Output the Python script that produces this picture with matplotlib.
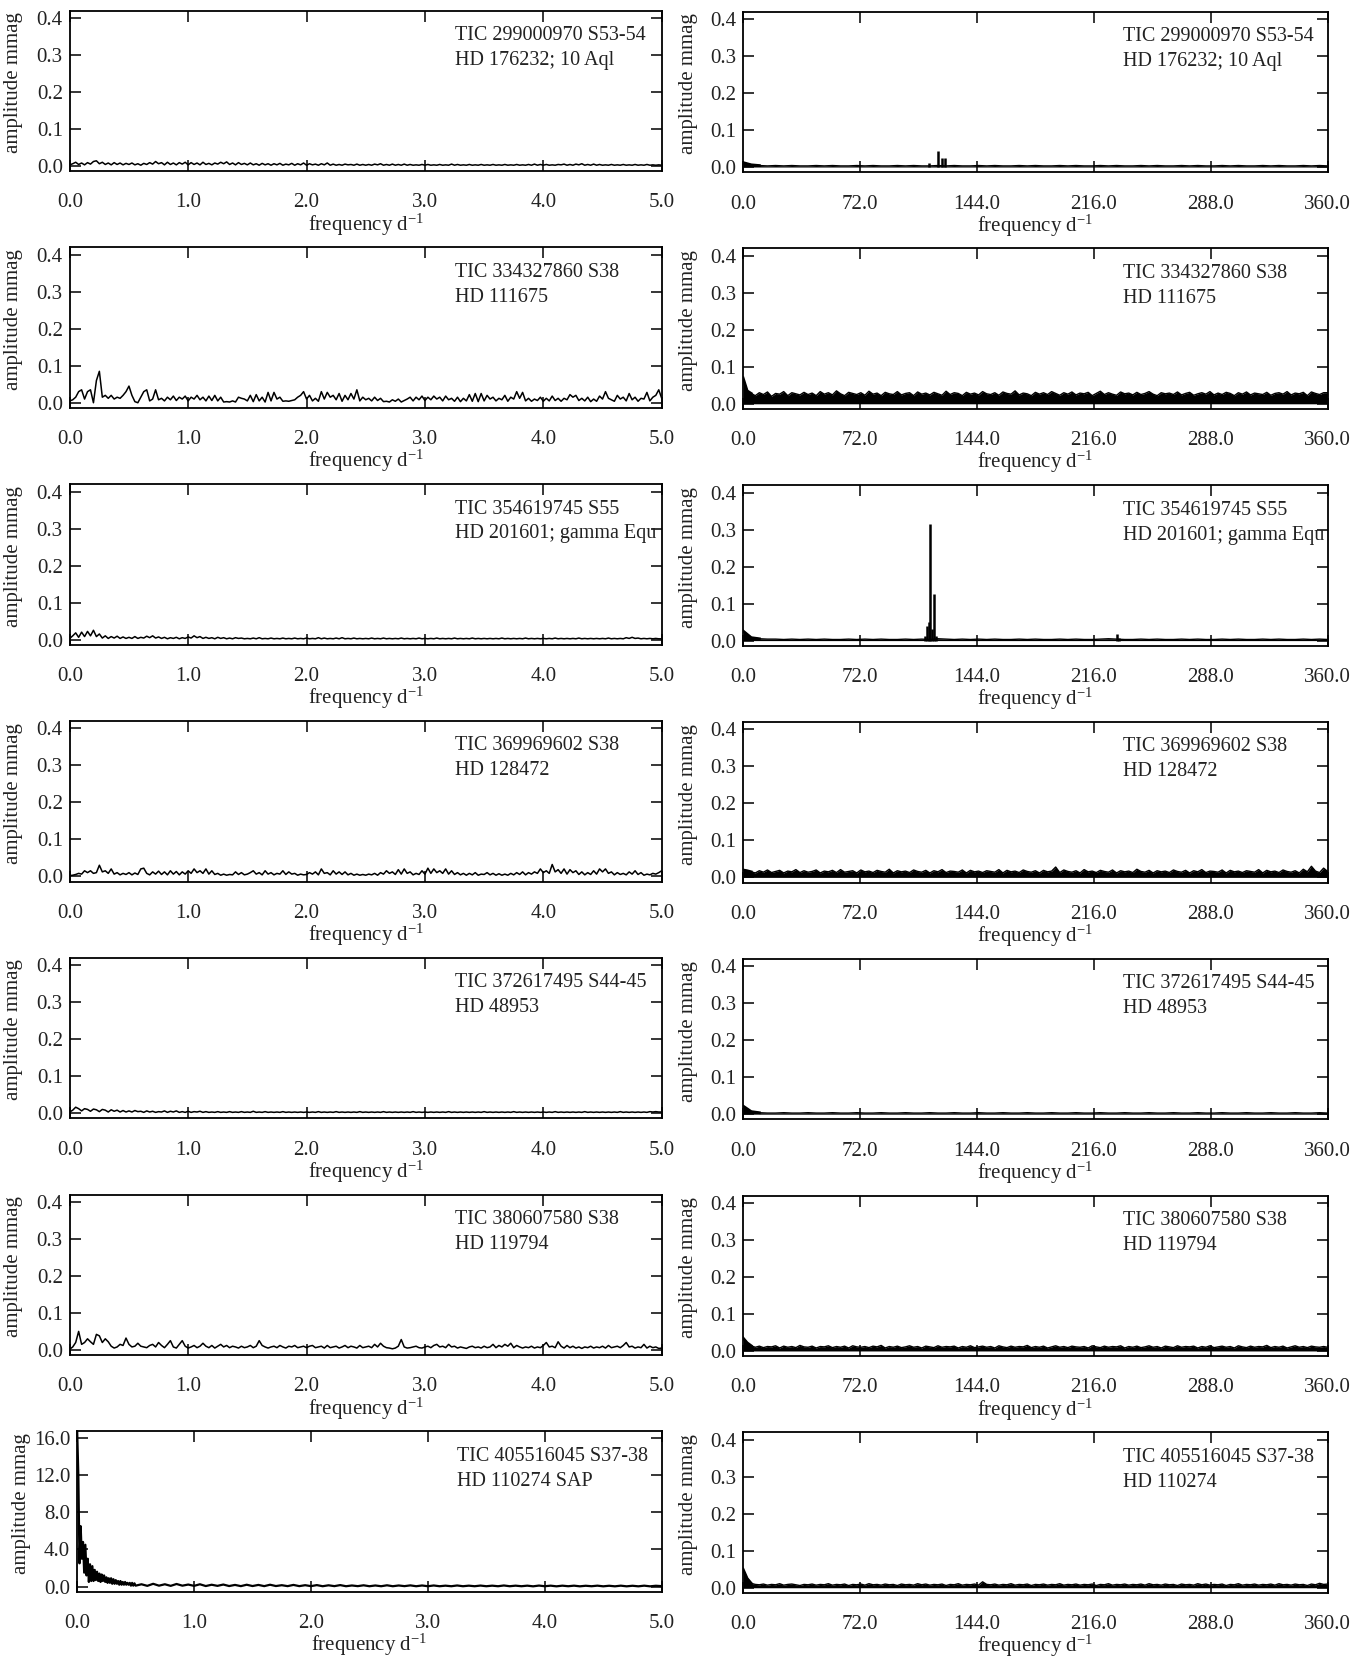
import numpy as np
import matplotlib.pyplot as plt
from matplotlib.ticker import FormatStrFormatter

plt.rcParams['font.family'] = ['Liberation Serif', 'DejaVu Serif']
plt.rcParams['mathtext.default'] = 'regular'

# ---- labels -------------------------------------------------------------
left_labels = [("TIC 299000970 S53-54", "HD 176232; 10 Aql"),
               ("TIC 334327860 S38", "HD 111675"),
               ("TIC 354619745 S55", "HD 201601; gamma Equ"),
               ("TIC 369969602 S38", "HD 128472"),
               ("TIC 372617495 S44-45", "HD 48953"),
               ("TIC 380607580 S38", "HD 119794"),
               ("TIC 405516045 S37-38", "HD 110274 SAP")]
right_labels = [("TIC 299000970 S53-54", "HD 176232; 10 Aql"),
                ("TIC 334327860 S38", "HD 111675"),
                ("TIC 354619745 S55", "HD 201601; gamma Equ"),
                ("TIC 369969602 S38", "HD 128472"),
                ("TIC 372617495 S44-45", "HD 48953"),
                ("TIC 380607580 S38", "HD 119794"),
                ("TIC 405516045 S37-38", "HD 110274")]

left_xticks = [0.0, 1.0, 2.0, 3.0, 4.0, 5.0]
right_xticks = [0.0, 72.0, 144.0, 216.0, 288.0, 360.0]
amp_yticks = [0.0, 0.1, 0.2, 0.3, 0.4]
sap_yticks = [0.0, 4.0, 8.0, 12.0, 16.0]

# ---- low frequency spectra 0-5 d^-1, amplitudes in micro-mag ------------
lo1_umag = [3,6,10,4,8,3,9,5,12,14,6,10,4,8,3,9,4,8,3,7,
            4,8,3,6,2,7,4,9,5,12,6,9,3,10,4,8,3,9,5,10,
            3,9,4,8,3,10,4,7,3,8,5,10,6,11,4,8,3,9,4,7,
            3,8,3,6,2,7,3,6,2,6,3,7,2,5,3,7,2,6,3,8,
            2,6,3,5,2,6,3,8,2,5,2,4,2,5,3,4,2,5,2,4,
            2,4,2,5,3,6,2,4,2,5,2,4,2,5,2,4,2,3,2,4,
            2,4,2,3,2,4,2,3,2,5,2,4,2,3,2,4,2,3,2,4,
            2,3,2,4,2,3,2,4,2,3,2,4,2,3,2,4,2,5,2,4,
            2,4,2,3,2,4,3,5,2,4,2,5,3,6,2,4,2,5,2,4,
            2,3,2,4,2,3,2,4,2,3,2,4,2,3,2,4,2,3,2,3,
            2]
lo2_umag = [5,8,15,30,35,10,30,35,0,60,85,15,20,12,20,10,15,12,20,30,
            45,20,3,0,15,30,35,5,10,35,8,12,5,15,8,18,6,15,10,18,
            5,15,10,20,8,15,5,18,6,20,5,15,2,3,2,5,2,15,12,10,
            5,20,3,22,5,15,2,28,5,28,10,15,4,5,4,6,8,15,20,30,
            10,20,5,12,4,30,10,28,15,20,8,25,4,20,8,25,10,35,5,15,
            8,12,5,15,6,12,3,4,2,8,4,10,2,6,10,15,5,15,8,18,
            6,15,8,18,10,15,5,18,8,12,4,15,3,12,5,22,4,25,3,25,
            5,20,10,15,5,12,8,20,4,15,10,30,12,28,5,12,4,10,6,15,
            4,12,5,18,6,12,4,12,8,22,15,20,6,12,5,15,3,10,4,18,
            10,30,12,8,4,20,10,15,5,25,8,15,4,12,10,28,5,15,20,35,
            12]
lo3_umag = [3,10,18,6,20,8,22,10,25,8,15,4,10,3,8,4,9,3,7,3,
            6,3,8,3,6,4,9,5,10,4,7,3,6,2,5,3,6,2,5,3,
            7,4,10,5,8,3,6,3,5,2,6,3,5,2,4,2,5,3,4,2,
            3,2,4,2,5,2,3,2,4,2,3,2,4,2,3,2,4,2,3,2,
            4,2,3,2,5,2,4,2,3,2,4,2,5,2,3,2,4,2,3,2,
            3,2,4,2,3,2,4,2,3,2,3,2,4,2,3,2,3,2,4,2,
            3,2,3,2,4,2,3,2,3,2,4,2,3,2,3,2,4,2,3,2,
            3,2,3,2,3,2,4,2,3,2,3,2,3,2,4,2,3,2,3,2,
            3,2,3,2,4,2,3,2,3,2,3,2,4,2,3,2,3,2,3,2,
            3,2,4,2,3,2,3,2,5,3,6,3,4,2,3,2,3,2,3,2,
            2]
lo4_umag = [2,3,5,8,6,15,10,15,8,10,30,12,15,8,20,6,10,4,8,5,
            10,4,9,5,20,22,8,4,12,6,14,5,12,4,15,6,13,4,12,6,
            15,8,20,10,15,8,20,6,15,5,8,3,6,3,5,4,12,5,10,4,
            6,10,15,6,10,4,15,6,10,4,8,6,15,5,12,6,8,3,6,4,
            5,10,6,12,4,20,8,10,4,15,6,12,5,12,4,8,3,6,3,5,
            3,6,4,8,3,10,6,15,8,12,5,18,6,20,8,12,4,8,5,15,
            6,22,8,20,10,15,8,20,6,15,5,10,4,8,3,8,4,10,3,6,
            5,10,4,8,3,7,3,6,3,8,4,10,5,12,4,10,6,12,8,20,
            10,15,8,32,12,18,8,20,6,18,10,15,5,12,4,10,5,15,6,20,
            12,20,8,12,4,10,5,8,4,12,6,15,5,10,3,6,4,8,6,10,
            15]
lo5_umag = [3,8,16,12,6,12,10,5,11,9,4,10,8,3,9,5,8,3,7,3,
            6,3,7,4,5,2,6,3,5,2,4,3,6,2,5,3,6,2,4,2,
            5,2,4,3,5,2,4,2,3,2,4,2,3,2,4,2,3,2,4,2,
            3,2,5,2,3,2,4,2,3,2,3,2,4,2,3,2,3,2,3,2,
            3,2,3,2,4,2,3,2,3,2,4,2,3,2,3,2,3,2,4,2,
            3,2,3,2,3,2,4,2,3,2,3,2,3,2,3,2,4,2,3,2,
            3,2,3,2,3,2,3,2,4,2,3,2,3,2,3,2,3,2,3,2,
            4,2,3,2,3,2,3,2,3,2,4,2,3,2,3,2,3,2,3,2,
            3,2,3,2,4,2,3,2,3,2,3,2,3,2,4,2,3,2,3,2,
            3,2,3,2,3,2,4,2,3,2,3,2,3,2,3,2,4,3,4,3,
            3]
lo6_umag = [2,8,20,50,15,20,30,22,15,42,38,20,30,22,10,5,8,15,12,32,
            15,8,10,18,10,8,6,12,15,8,20,12,6,15,25,8,5,15,25,10,
            5,8,12,6,10,18,10,6,12,5,10,15,8,12,6,10,8,5,10,6,
            8,12,6,10,25,12,8,5,8,10,6,12,8,5,10,8,12,6,8,10,
            6,10,12,6,8,10,5,12,6,8,10,5,8,12,6,10,8,5,12,6,
            8,10,6,15,8,18,10,6,5,3,5,10,28,8,5,6,8,10,6,5,
            8,10,6,12,15,8,10,6,15,8,10,5,8,6,4,8,10,6,8,5,
            10,6,8,15,6,12,8,15,10,18,6,12,8,5,8,6,10,5,8,6,
            12,20,8,10,6,22,10,5,12,6,10,5,8,4,8,6,10,5,8,6,
            10,5,12,6,8,10,6,12,20,8,10,5,8,6,15,5,10,6,8,4,
            5]
# SAP spectrum in mmag: 0-0.5 d^-1 (fine) and 0.55-5.0 d^-1 (coarse)
sap_fine_mmag = [16.8,12.0,2.5,6.5,3.0,4.8,1.5,4.5,1.2,3.0,0.5,2.4,0.6,2.2,0.6,
                 1.8,0.7,1.6,0.6,1.4,0.5,1.3,0.6,1.2,0.5,1.0,0.4,0.9,0.4,0.9,
                 0.3,0.8,0.3,0.7,0.3,0.6,0.2,0.6,0.2,0.5,0.2,0.5,0.2,0.4,0.2,
                 0.4,0.1,0.4,0.1,0.35,0.1]
sap_coarse_mmag = [0.25,0.08,0.3,0.1,0.25,0.08,0.28,0.1,0.22,0.08,
                   0.25,0.06,0.2,0.08,0.22,0.06,0.18,0.05,0.2,0.06,
                   0.18,0.05,0.2,0.06,0.15,0.05,0.18,0.05,0.15,0.05,
                   0.16,0.04,0.14,0.05,0.16,0.04,0.12,0.05,0.14,0.04,
                   0.12,0.04,0.14,0.04,0.12,0.05,0.13,0.04,0.12,0.04,
                   0.12,0.04,0.1,0.04,0.12,0.04,0.1,0.04,0.11,0.04,
                   0.1,0.04,0.12,0.04,0.1,0.04,0.1,0.03,0.11,0.04,
                   0.1,0.03,0.1,0.04,0.1,0.03,0.09,0.04,0.1,0.03,
                   0.09,0.03,0.1,0.03,0.09,0.03,0.1,0.03,0.09,0.05]

# ---- high frequency spectra 0-360 d^-1, noise in micro-mag --------------
hi1_umag = [12,6,4,3,4,3,4,3,3,4,3,4,3,3,4,3,4,3,3,4,3,4,3,3,4,3,4,3,3,4,
            3,4,3,3,4,3,4,3,3,4,3,4,3,3,4,3,4,3,3,4,3,4,3,3,4,3,4,3,3,4,
            3,4,3,3,4,3,4,3,3,4,3,4,3]
hi2_umag = [70,35,28,22,30,25,32,20,28,26,33,22,30,27,24,31,25,29,22,33,
            26,30,24,35,27,22,31,28,25,30,23,34,26,29,22,31,27,25,33,24,
            28,30,22,32,26,29,24,31,27,23,34,25,30,28,22,31,26,29,24,33,
            27,25,30,23,32,28,26,35,24,29,27,22,31,26,30,25,33,28,23,30,
            26,32,24,29,27,31,22,28,34,25,30,26,23,32,27,29,24,31,25,28,
            33,26,22,30,27,29,25,32,24,28,31,23,27,30,26,33,24,29,25,31,
            28,22,30,26,32,24,29,27,25,31,23,28,30,26,33,24,29,27,31,22,
            32,28,25,30,30]
hi3_umag = [26,8,5,4,4,3,4,3,4,3,4,3,3,4,3,4,3,4,3,3,4,3,4,3,5,4,3,4,3,4,
            3,4,3,3,4,3,4,3,3,4,3,4,3,3,4,5,4,3,3,4,3,4,3,3,4,3,4,3,3,4,
            3,4,3,3,4,3,4,3,3,4,3,4,3]
hi4_umag = [20,18,15,12,18,14,20,13,16,19,12,17,15,21,13,18,14,16,20,12,
            17,15,19,13,21,14,16,18,12,20,15,17,13,19,16,14,22,12,18,15,
            17,13,20,16,14,19,12,18,15,21,13,17,16,14,20,12,19,15,17,13,
            18,16,14,21,12,19,15,17,13,20,16,14,18,12,19,15,17,28,13,20,
            16,14,18,12,21,15,17,13,19,16,14,20,12,18,15,17,13,22,16,14,
            19,12,18,15,17,13,20,16,14,19,12,18,15,21,13,17,16,14,20,12,
            19,15,17,13,18,16,14,21,12,19,15,17,13,20,16,14,18,12,22,15,
            30,17,13,25,16]
hi5_umag = [22,7,4,3,3,4,3,3,4,3,3,4,3,3,4,3,3,4,3,3,4,3,3,4,3,3,4,3,3,4,
            3,3,4,3,3,4,3,3,4,3,3,4,3,3,4,3,3,4,3,3,4,3,3,4,3,3,4,3,3,4,
            3,3,4,3,3,4,3,3,4,3,3,4,3]
hi6_umag = [35,22,14,10,13,9,12,11,14,8,13,10,12,9,15,11,10,13,8,12,
            11,14,9,12,10,13,8,14,11,10,12,9,13,11,15,8,12,10,13,9,
            11,14,10,12,8,13,11,9,14,10,12,11,13,8,12,10,14,9,11,13,
            10,12,8,14,11,9,13,10,12,11,15,9,12,10,13,8,11,14,10,12,
            9,13,11,10,12,8,14,11,9,13,10,12,11,14,8,12,10,13,9,11,
            14,10,12,8,13,11,9,14,10,12,11,13,8,12,10,14,9,11,13,10,
            12,8,14,11,9,13,10,12,11,15,9,12,10,13,8,11,14,10,12,9,
            13,11,10,12,10]
hi7_umag = [50,25,12,9,8,10,7,9,8,11,7,9,10,8,6,9,8,10,7,9,
            8,11,7,9,8,10,6,9,8,10,7,11,8,9,7,10,8,9,6,10,
            8,9,7,11,8,10,7,9,8,10,6,9,8,11,7,9,8,10,7,16,
            9,8,10,7,9,8,11,7,9,8,10,6,9,8,10,7,9,8,11,7,
            9,8,10,7,9,8,10,6,9,8,11,7,9,8,10,7,9,8,10,7,
            11,8,9,7,10,8,9,6,10,8,9,7,11,8,10,7,9,8,10,6,
            9,8,11,7,9,8,10,7,9,8,10,7,11,8,9,7,10,8,9,6,
            10,8,12,9,10]

# resolved pulsation peaks (d^-1, mmag)
peaks1_freq = [114.5, 120.0, 122.5, 124.3]
peaks1_amp = [0.010, 0.042, 0.025, 0.024]
peaks3_freq = [112.0, 113.0, 114.3, 115.2, 116.2, 117.3, 118.8, 230.0, 231.5]
peaks3_amp = [0.012, 0.040, 0.050, 0.315, 0.030, 0.125, 0.012, 0.018, 0.008]

left_series = [lo1_umag, lo2_umag, lo3_umag, lo4_umag, lo5_umag, lo6_umag]
right_series = [hi1_umag, hi2_umag, hi3_umag, hi4_umag, hi5_umag, hi6_umag, hi7_umag]
right_peaks = {0: (peaks1_freq, peaks1_amp), 2: (peaks3_freq, peaks3_amp)}

# ---- layout (pixel geometry of the reference, scaled to the figure) -----
W, H = 1297.0, 1567.5
TXT = '#222222'
fig = plt.figure(figsize=(13.71, 16.57), dpi=100)


def style_axes(ax, xticks, yticks, xmax):
    ax.set_xlim(xticks[0], xmax)
    ax.set_xticks(xticks)
    ax.set_yticks(yticks)
    ax.xaxis.set_major_formatter(FormatStrFormatter('%.1f'))
    ax.yaxis.set_major_formatter(FormatStrFormatter('%.1f'))
    ax.tick_params(direction='in', top=True, right=True, length=8, width=1.1,
                   labelsize=15, labelcolor=TXT)
    ax.tick_params(axis='x', pad=16)
    ax.tick_params(axis='y', pad=5)
    for s in ax.spines.values():
        s.set_linewidth(1.3)
    ax.set_xlabel('frequency d$^{-1}$', fontsize=15, color=TXT)
    ax.xaxis.set_label_coords(0.5, -0.25)


def add_label(ax, lines):
    ax.text(0.65, 0.845, lines[0], transform=ax.transAxes, fontsize=14.5,
            color=TXT, va='center')
    ax.text(0.65, 0.69, lines[1], transform=ax.transAxes, fontsize=14.5,
            color=TXT, va='center')


for i in range(7):
    # left column
    top = 10 + 224 * i
    x0 = 73 if i == 6 else 66
    axl = fig.add_axes([x0 / W, 1 - (top + 152) / H, (626 - x0) / W, 152 / H])
    if i < 6:
        vals = np.array(left_series[i]) / 1000.0
        f = np.linspace(0.0, 5.0, len(vals))
        axl.plot(f, vals, color='black', lw=1.1)
        axl.set_ylim(-0.0143, 0.42)
        style_axes(axl, left_xticks, amp_yticks, 5.0)
    else:
        f_fine = np.linspace(0.0, 0.5, len(sap_fine_mmag))
        f_coarse = np.linspace(0.55, 5.0, len(sap_coarse_mmag))
        f = np.concatenate([f_fine, f_coarse])
        vals = np.concatenate([sap_fine_mmag, sap_coarse_mmag])
        axl.plot(f, vals, color='black', lw=1.6)
        axl.set_ylim(-0.58, 16.7)
        style_axes(axl, left_xticks, sap_yticks, 5.0)
    axl.set_ylabel('amplitude mmag', fontsize=15, color=TXT)
    axl.yaxis.set_label_coords(-44.0 / (626 - x0), 0.55)
    add_label(axl, left_labels[i])

    # right column
    top_r = 11 + 224 * i
    axr = fig.add_axes([703 / W, 1 - (top_r + 152) / H, 553 / W, 152 / H])
    vals = np.array(right_series[i]) / 1000.0
    f = np.linspace(0.0, 360.0, len(vals))
    axr.fill_between(f, 0.0, vals, color='black', lw=0)
    axr.plot(f, vals, color='black', lw=1.0)
    axr.plot(f[:3], vals[:3], color='black', lw=2.0)
    if i in right_peaks:
        pf, pa = right_peaks[i]
        axr.vlines(pf, 0.0, pa, color='black', lw=1.8)
    axr.set_ylim(-0.0143, 0.42)
    style_axes(axr, right_xticks, amp_yticks, 360.0)
    axr.set_ylabel('amplitude mmag', fontsize=15, color=TXT)
    axr.yaxis.set_label_coords(-43.0 / 553, 0.55)
    add_label(axr, right_labels[i])

fig.savefig('out.png', dpi=100)
